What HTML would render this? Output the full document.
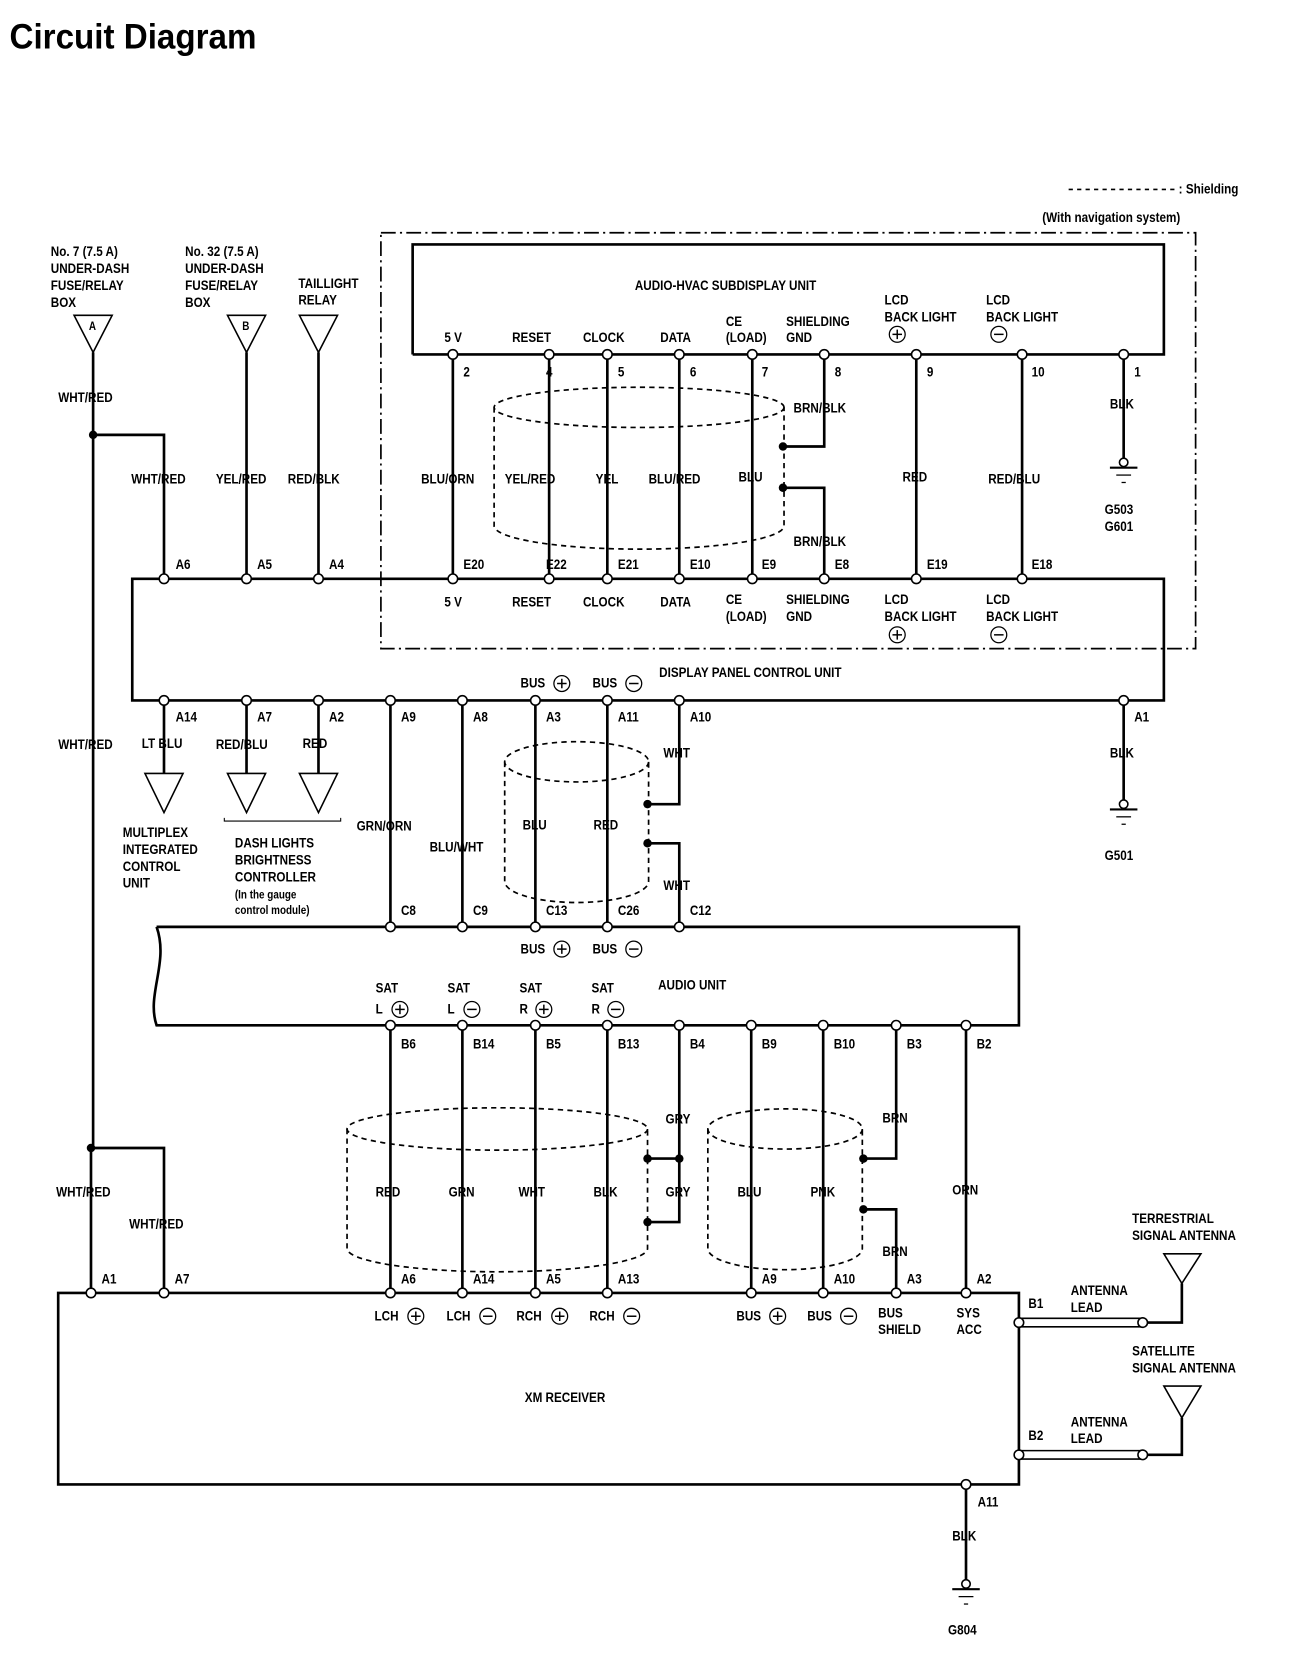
<!DOCTYPE html>
<html><head><meta charset="utf-8"><style>
html,body{margin:0;padding:0;background:#fff;}
svg{display:block;}
text{font-family:"Liberation Sans Narrow","Liberation Sans",sans-serif;font-weight:bold;font-size:13px;fill:#000;transform-box:fill-box;transform-origin:0 50%;transform:scaleX(0.85);}
.t{font-size:33px;font-family:"Liberation Sans",sans-serif;transform:scaleX(0.95);}
.s{font-size:11px;}
</style></head><body>
<svg id="d" xmlns="http://www.w3.org/2000/svg" width="1312" height="1658" viewBox="0 0 1240 1567">
<text class="t" x="9" y="46">Circuit Diagram</text>
<line x1="1010" y1="179" x2="1110" y2="179" stroke="#000" stroke-width="1.5" stroke-dasharray="4,4"/>
<text x="1114" y="183">: Shielding</text>
<text x="985" y="210">(With navigation system)</text>

<g fill="none" stroke="#000">
<path d="M360 220H1130V613H360Z" stroke-width="1.6" stroke-dasharray="14,4,2,4"/>
<path d="M390 335V231H1100V335H390" stroke-width="2.5"/>
<path d="M125 547H1100V662H125Z" stroke-width="2.5"/>
<path d="M148 876H963V969H148C138 940 160 910 148 876" stroke-width="2.5"/>
<path d="M55 1222H963V1403H55Z" stroke-width="2.5"/>

<g stroke-width="2.5">
<path d="M428 335V547M519 335V547M574 335V547M642 335V547M711 335V547M866 335V547M966 335V547"/>
<path d="M779 335V422H740M740 461H779V547M1062 335V433"/>
<path d="M88 333V1085M86 1085V1222M88 411H155V547M86 1085H155V1222M233 333V547M301 333V547"/>
<path d="M155 662V731M233 662V731M301 662V731M369 662V876M437 662V876M506 662V876M574 662V876M642 662V760H612M612 797H642V876M1062 662V756"/>
<path d="M369 969V1222M437 969V1222M506 969V1222M574 969V1222M642 969V1155H612M612 1095H642M710 969V1222M778 969V1222M847 969V1095H816M816 1143H847V1222M913 969V1222M913 1403V1493"/>
<path d="M1083 1250H1117V1213M1083 1375H1117V1340"/>
</g>
<g stroke-width="1.5">
<path d="M963 1246H1080M963 1254H1080M963 1371H1080M963 1379H1080"/>
<path d="M70 298H106L88 333Z M215 298H251L233 333Z M283 298H319L301 333Z"/>
<path d="M137 731H173L155 768Z M215 731H251L233 768Z M283 731H319L301 768Z"/>
<path d="M1100 1185H1135L1117 1213Z M1100 1310H1135L1117 1340Z"/>
<path d="M212 773V776H322V773" stroke-width="1"/>
</g>
<g stroke-width="1.6" stroke-dasharray="5,4">
<ellipse cx="604" cy="385" rx="137" ry="19"/>
<path d="M467 385V497A137 22 0 0 0 741 497V385"/>
<ellipse cx="545" cy="720" rx="68" ry="19"/>
<path d="M477 720V833A68 20 0 0 0 613 833V720"/>
<ellipse cx="470" cy="1067" rx="142" ry="20"/>
<path d="M328 1067V1180A142 22 0 0 0 612 1180V1067"/>
<ellipse cx="742" cy="1067" rx="73" ry="19"/>
<path d="M669 1067V1180A73 20 0 0 0 815 1180V1067"/>
</g>
</g>
<g id="pins"></g>

<g>
<text x="48" y="242">No. 7 (7.5 A)</text><text x="48" y="258">UNDER-DASH</text><text x="48" y="274">FUSE/RELAY</text><text x="48" y="290">BOX</text>
<text x="175" y="242">No. 32 (7.5 A)</text><text x="175" y="258">UNDER-DASH</text><text x="175" y="274">FUSE/RELAY</text><text x="175" y="290">BOX</text>
<text x="282" y="272">TAILLIGHT</text><text x="282" y="288">RELAY</text>
<text class="s" x="84" y="312">A</text><text class="s" x="229" y="312">B</text>
<text x="55" y="380">WHT/RED</text>
<text x="124" y="457">WHT/RED</text><text x="204" y="457">YEL/RED</text><text x="272" y="457">RED/BLK</text>
<text x="600" y="274">AUDIO-HVAC SUBDISPLAY UNIT</text>
<text x="420" y="323">5 V</text><text x="484" y="323">RESET</text><text x="551" y="323">CLOCK</text><text x="624" y="323">DATA</text>
<text x="686" y="308">CE</text><text x="686" y="323">(LOAD)</text><text x="743" y="308">SHIELDING</text><text x="743" y="323">GND</text>
<text x="836" y="288">LCD</text><text x="836" y="304">BACK LIGHT</text><text x="932" y="288">LCD</text><text x="932" y="304">BACK LIGHT</text>
<text x="438" y="356">2</text><text x="516" y="356">4</text><text x="584" y="356">5</text><text x="652" y="356">6</text><text x="720" y="356">7</text><text x="789" y="356">8</text><text x="876" y="356">9</text><text x="975" y="356">10</text><text x="1072" y="356">1</text>
<text x="750" y="390">BRN/BLK</text><text x="750" y="516">BRN/BLK</text><text x="1049" y="386">BLK</text>
<text x="398" y="457">BLU/ORN</text><text x="477" y="457">YEL/RED</text><text x="563" y="457">YEL</text><text x="613" y="457">BLU/RED</text><text x="698" y="455">BLU</text><text x="853" y="455">RED</text><text x="934" y="457">RED/BLU</text>
<text x="1044" y="486">G503</text><text x="1044" y="502">G601</text>
<text x="166" y="538">A6</text><text x="243" y="538">A5</text><text x="311" y="538">A4</text><text x="438" y="538">E20</text><text x="516" y="538">E22</text><text x="584" y="538">E21</text><text x="652" y="538">E10</text><text x="720" y="538">E9</text><text x="789" y="538">E8</text><text x="876" y="538">E19</text><text x="975" y="538">E18</text>
<text x="420" y="573">5 V</text><text x="484" y="573">RESET</text><text x="551" y="573">CLOCK</text><text x="624" y="573">DATA</text>
<text x="686" y="571">CE</text><text x="686" y="587">(LOAD)</text><text x="743" y="571">SHIELDING</text><text x="743" y="587">GND</text>
<text x="836" y="571">LCD</text><text x="836" y="587">BACK LIGHT</text><text x="932" y="571">LCD</text><text x="932" y="587">BACK LIGHT</text>
<text x="492" y="650">BUS</text><text x="560" y="650">BUS</text><text x="623" y="640">DISPLAY PANEL CONTROL UNIT</text>
<text x="166" y="682">A14</text><text x="243" y="682">A7</text><text x="311" y="682">A2</text><text x="379" y="682">A9</text><text x="447" y="682">A8</text><text x="516" y="682">A3</text><text x="584" y="682">A11</text><text x="652" y="682">A10</text><text x="1072" y="682">A1</text>
<text x="55" y="708">WHT/RED</text><text x="134" y="707">LT BLU</text><text x="204" y="708">RED/BLU</text><text x="286" y="707">RED</text>
<text x="627" y="716">WHT</text><text x="627" y="841">WHT</text><text x="1049" y="716">BLK</text>
<text x="116" y="791">MULTIPLEX</text><text x="116" y="807">INTEGRATED</text><text x="116" y="823">CONTROL</text><text x="116" y="839">UNIT</text>
<text x="222" y="801">DASH LIGHTS</text><text x="222" y="817">BRIGHTNESS</text><text x="222" y="833">CONTROLLER</text><text class="s" x="222" y="849">(In the gauge</text><text class="s" x="222" y="864">control module)</text>
<text x="337" y="785">GRN/ORN</text><text x="406" y="805">BLU/WHT</text><text x="494" y="784">BLU</text><text x="561" y="784">RED</text><text x="1044" y="813">G501</text>
<text x="379" y="865">C8</text><text x="447" y="865">C9</text><text x="516" y="865">C13</text><text x="584" y="865">C26</text><text x="652" y="865">C12</text>
<text x="492" y="901">BUS</text><text x="560" y="901">BUS</text><text x="622" y="935">AUDIO UNIT</text>
<text x="355" y="938">SAT</text><text x="355" y="958">L</text><text x="423" y="938">SAT</text><text x="423" y="958">L</text><text x="491" y="938">SAT</text><text x="491" y="958">R</text><text x="559" y="938">SAT</text><text x="559" y="958">R</text>
<text x="379" y="991">B6</text><text x="447" y="991">B14</text><text x="516" y="991">B5</text><text x="584" y="991">B13</text><text x="652" y="991">B4</text><text x="720" y="991">B9</text><text x="788" y="991">B10</text><text x="857" y="991">B3</text><text x="923" y="991">B2</text>
<text x="629" y="1062">GRY</text><text x="629" y="1131">GRY</text><text x="834" y="1061">BRN</text><text x="834" y="1187">BRN</text>
<text x="355" y="1131">RED</text><text x="424" y="1131">GRN</text><text x="490" y="1131">WHT</text><text x="561" y="1131">BLK</text><text x="697" y="1131">BLU</text><text x="766" y="1131">PNK</text><text x="900" y="1129">ORN</text>
<text x="53" y="1131">WHT/RED</text><text x="122" y="1161">WHT/RED</text>
<text x="96" y="1213">A1</text><text x="165" y="1213">A7</text><text x="379" y="1213">A6</text><text x="447" y="1213">A14</text><text x="516" y="1213">A5</text><text x="584" y="1213">A13</text><text x="720" y="1213">A9</text><text x="788" y="1213">A10</text><text x="857" y="1213">A3</text><text x="923" y="1213">A2</text>
<text x="354" y="1248">LCH</text><text x="422" y="1248">LCH</text><text x="488" y="1248">RCH</text><text x="557" y="1248">RCH</text><text x="696" y="1248">BUS</text><text x="763" y="1248">BUS</text>
<text x="830" y="1245">BUS</text><text x="830" y="1261">SHIELD</text><text x="904" y="1245">SYS</text><text x="904" y="1261">ACC</text>
<text x="972" y="1236">B1</text><text x="1012" y="1224">ANTENNA</text><text x="1012" y="1240">LEAD</text>
<text x="1070" y="1156">TERRESTRIAL</text><text x="1070" y="1172">SIGNAL ANTENNA</text>
<text x="1070" y="1281">SATELLITE</text><text x="1070" y="1297">SIGNAL ANTENNA</text>
<text x="972" y="1361">B2</text><text x="1012" y="1348">ANTENNA</text><text x="1012" y="1364">LEAD</text>
<text x="496" y="1325">XM RECEIVER</text>
<text x="924" y="1424">A11</text><text x="900" y="1456">BLK</text><text x="896" y="1545">G804</text>
</g>
</svg>
<script>
(function(){
var ns="http://www.w3.org/2000/svg",g=document.getElementById("pins");
function el(n,a){var e=document.createElementNS(ns,n);for(var k in a)e.setAttribute(k,a[k]);g.appendChild(e);return e;}
function pin(x,y){el("circle",{cx:x,cy:y,r:4.5,fill:"#fff",stroke:"#000","stroke-width":1.5});}
function dot(x,y){el("circle",{cx:x,cy:y,r:4,fill:"#000"});}
function sg(x,y,p){el("circle",{cx:x,cy:y,r:7.5,fill:"#fff",stroke:"#000","stroke-width":1.2});
 el("line",{x1:x-4.5,y1:y,x2:x+4.5,y2:y,stroke:"#000","stroke-width":1.4});
 if(p)el("line",{x1:x,y1:y-4.5,x2:x,y2:y+4.5,stroke:"#000","stroke-width":1.4});}
function gnd(x,y){el("circle",{cx:x,cy:y,r:4,fill:"#fff",stroke:"#000","stroke-width":1.5});
 el("line",{x1:x-13,y1:y+5,x2:x+13,y2:y+5,stroke:"#000","stroke-width":2});
 el("line",{x1:x-7,y1:y+12,x2:x+7,y2:y+12,stroke:"#000","stroke-width":1.2});
 el("line",{x1:x-2,y1:y+19,x2:x+2,y2:y+19,stroke:"#000","stroke-width":1.2});}
[428,519,574,642,711,779,866,966,1062].forEach(function(x){pin(x,335);});
[155,233,301,428,519,574,642,711,779,866,966].forEach(function(x){pin(x,547);});
[155,233,301,369,437,506,574,642,1062].forEach(function(x){pin(x,662);});
[369,437,506,574,642].forEach(function(x){pin(x,876);});
[369,437,506,574,642,710,778,847,913].forEach(function(x){pin(x,969);});
[86,155,369,437,506,574,710,778,847,913].forEach(function(x){pin(x,1222);});
pin(913,1403);pin(963,1250);pin(963,1375);pin(1080,1250);pin(1080,1375);
dot(88,411);dot(86,1085);dot(740,422);dot(740,461);dot(612,760);dot(612,797);
dot(612,1095);dot(642,1095);dot(612,1155);dot(816,1095);dot(816,1143);
gnd(1062,437);gnd(1062,760);gnd(913,1497);
sg(848,316,1);sg(944,316,0);sg(848,600,1);sg(944,600,0);
sg(531,646,1);sg(599,646,0);sg(531,897,1);sg(599,897,0);
sg(378,954,1);sg(446,954,0);sg(514,954,1);sg(582,954,0);
sg(393,1244,1);sg(461,1244,0);sg(529,1244,1);sg(597,1244,0);sg(735,1244,1);sg(802,1244,0);
})();
</script>
</body></html>
